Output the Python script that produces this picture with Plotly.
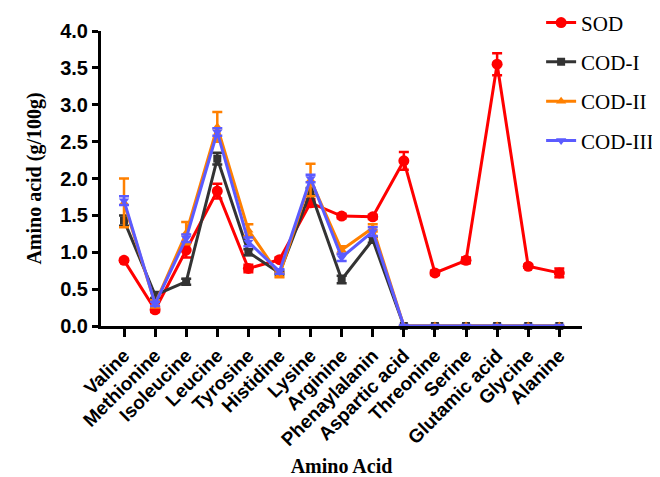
import plotly.graph_objects as go

categories = ["Valine", "Methionine", "Isoleucine", "Leucine", "Tyrosine", "Histidine",
              "Lysine", "Arginine", "Phenaylalanin", "Aspartic acid", "Threonine", "Serine",
              "Glutamic acid", "Glycine", "Alanine"]

sod = [0.89, 0.22, 1.03, 1.83, 0.78, 0.90, 1.67, 1.49, 1.48, 2.24, 0.72, 0.89, 3.55, 0.81, 0.72]
sod_err = [0.02, 0.03, 0.10, 0.10, 0.05, 0.03, 0.05, 0.03, 0.03, 0.12, 0.03, 0.04, 0.15, 0.02, 0.06]

cod1 = [1.43, 0.42, 0.60, 2.27, 1.00, 0.72, 1.82, 0.63, 1.17, 0, 0, 0, 0, 0, 0]
cod1_err = [0.07, 0.04, 0.04, 0.08, 0.04, 0.02, 0.05, 0.05, 0.04, 0, 0, 0, 0, 0, 0]

cod2 = [1.67, 0.30, 1.26, 2.70, 1.30, 0.69, 1.98, 1.03, 1.33, 0, 0, 0, 0, 0, 0]
cod2_err = [0.33, 0.05, 0.15, 0.20, 0.08, 0.03, 0.22, 0.05, 0.05, 0, 0, 0, 0, 0, 0]

cod3 = [1.70, 0.30, 1.19, 2.63, 1.14, 0.74, 2.00, 0.93, 1.28, 0, 0, 0, 0, 0, 0]
cod3_err = [0.06, 0.03, 0.05, 0.05, 0.06, 0.03, 0.05, 0.05, 0.06, 0, 0, 0, 0, 0, 0]

series = [
    ("SOD", sod, sod_err, "#FF0000", "circle", 11),
    ("COD-I", cod1, cod1_err, "#333333", "square", 8),
    ("COD-II", cod2, cod2_err, "#FF8000", "triangle-up", 9),
    ("COD-III", cod3, cod3_err, "#5B5BFF", "triangle-down", 9),
]

x_idx = list(range(len(categories)))

fig = go.Figure()
for name, vals, errs, color, sym, size in series:
    fig.add_trace(go.Scatter(
        x=x_idx, y=vals, name=name, mode="lines+markers",
        legendgroup=name,
        line=dict(color=color, width=3),
        marker=dict(color=color, symbol=sym, size=size),
        error_y=dict(type="data", array=errs, visible=True, color=color, thickness=2.5, width=5),
        cliponaxis=False,
    ))

fig.update_layout(
    width=652, height=469,
    margin=dict(l=93, r=78, t=23, b=151, autoexpand=False),
    plot_bgcolor="white", paper_bgcolor="white",
    showlegend=True,
    legend=dict(
        x=0.915, xanchor="left",
        y=1.097, yanchor="top",
        font=dict(family="Liberation Serif", size=21, color="black"),
        tracegroupgap=9, bgcolor="rgba(0,0,0,0)",
    ),
    xaxis=dict(
        range=[-0.74, 14.73],
        tickmode="array", tickvals=x_idx, ticktext=categories,
        tickangle=-45,
        tickfont=dict(family="Liberation Sans", size=19, color="black", weight="bold"),
        showline=True, linecolor="black", linewidth=3,
        ticks="outside", ticklen=8, tickwidth=3, tickcolor="black",
        showgrid=False, zeroline=False,
        title=dict(text="<b>Amino Acid</b>", font=dict(family="Liberation Serif", size=20, color="black"),
                   standoff=24),
    ),
    yaxis=dict(
        range=[0, 4.0],
        tickmode="array", tickvals=[0, 0.5, 1.0, 1.5, 2.0, 2.5, 3.0, 3.5, 4.0],
        ticktext=["0.0", "0.5", "1.0", "1.5", "2.0", "2.5", "3.0", "3.5", "4.0"],
        tickfont=dict(family="Liberation Sans", size=20, color="black", weight="bold"),
        showline=True, linecolor="black", linewidth=3,
        ticks="outside", ticklen=6, tickwidth=3, tickcolor="black",
        showgrid=False, zeroline=False,
        title=dict(text="<b>Amino acid (g/100g)</b>", font=dict(family="Liberation Serif", size=20, color="black"),
                   standoff=14),
    ),
)

fig.write_html("out.html")
